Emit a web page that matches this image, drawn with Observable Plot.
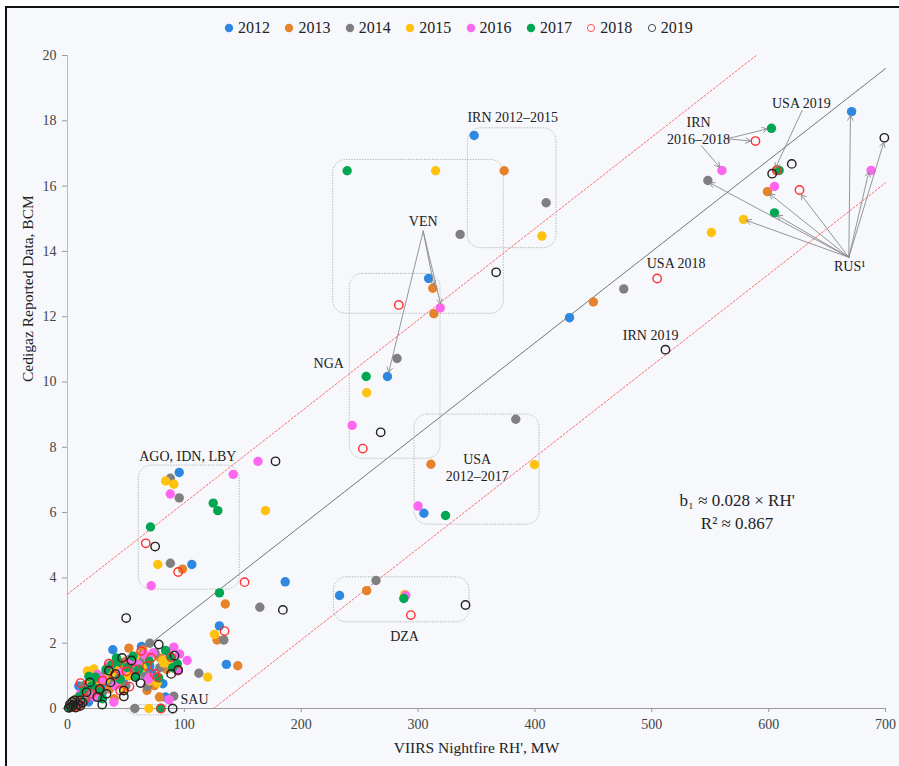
<!DOCTYPE html>
<html><head><meta charset="utf-8">
<script src="https://cdn.jsdelivr.net/npm/d3@7"></script>
<script src="https://cdn.jsdelivr.net/npm/@observablehq/plot@0.6"></script>
<style>
html,body{margin:0;background:#fff;font-family:"Liberation Serif","DejaVu Serif",serif;overflow:hidden}
#frame{position:absolute;left:5px;top:6px;width:892px;height:758px;border-top:2px solid #111;border-left:2px solid #111;background:#f6f8fc;overflow:hidden}
#legend{position:absolute;left:217px;top:10px;height:20px;display:flex;font-size:16px;color:#222;z-index:2}
#legend .item{width:60.4px;display:flex;align-items:center}
#legend svg{margin-right:4px}
#chart{position:absolute;left:0;top:0}
</style></head>
<body>
<div id="frame"><div id="legend"></div><div id="chart"></div></div>
<script>
const years = [2012, 2013, 2014, 2015, 2016, 2017, 2018, 2019];
const yearColors = ["#2e88e0", "#e6832a", "#808080", "#ffc20e", "#ff66f0", "#00a651", "#ff3030", "#222222"];
const openYears = [2018, 2019];
const xTicks = [0, 100, 200, 300, 400, 500, 600, 700];
const yTicks = [0, 2, 4, 6, 8, 10, 12, 14, 16, 18, 20];

// [RH' MW, BCM]
const d2012 = [[348,17.55],[671,18.28],[429.6,11.97],[273.8,10.17],[309,13.17],[95.6,7.23],[106.4,4.41],[186.3,3.88],[130,2.53],[136,1.35],[232.8,3.46],[305,5.98],
  [38.8,1.80],[63.3,1.90],[66.2,1.29],[70.4,1.29],[81.6,0.76],[83.9,0.35],[2,0.05],[5,0.15],[8,0.3],[12,0.4],[15,0.62],[20,0.55],[25,0.9],[30,0.75],[35,1.0],[42,1.1],[48,0.9],[55,1.2],[58,1.5],[72,1.1],[46,1.3],[18,0.2],[10,0.1],[9.7,0.69]];
const d2013 = [[373.7,16.47],[312.6,12.87],[313.5,12.09],[450,12.45],[311,7.48],[256,3.61],[98.4,4.27],[135,3.2],[128,2.1],[145.7,1.31],[599,15.83],[607,16.5],
  [52.5,1.85],[64.5,1.80],[79.6,1.54],[78.7,0.35],[74.4,0.70],[3,0.05],[7,0.2],[12,0.35],[16,0.5],[22,0.45],[28,0.8],[33,0.95],[40,1.2],[45,0.75],[50,1.45],[57,1.0],[62,1.6],[68,0.55],[85,1.2],[20,0.9],[36,0.6],[9,0.05],[40,0.3]];
const d2014 = [[409.6,15.49],[336,14.52],[282,10.72],[476,12.85],[383.6,8.86],[264,3.92],[95.6,6.45],[88,4.45],[164.6,3.1],[133.8,2.1],[548,16.17],[57.6,0],[91,0.38],[88,7.05],
  [70.4,2.0],[68.2,0.67],[112.4,1.08],[2,0.02],[6,0.1],[11,0.25],[17,0.4],[24,0.6],[30,0.5],[37,0.85],[44,1.0],[50,0.7],[56,1.3],[62,1.5],[75,1.7],[88,1.55],[14,0.7],[28,1.0],[66,1.05],[79,1.25]];
const d2015 = [[315,16.47],[406,14.47],[256,9.67],[399.6,7.47],[578.5,14.98],[551,14.58],[84,6.97],[91,6.87],[169.4,6.06],[77.3,4.41],[125.8,2.27],[120,0.96],[288.6,3.49],[69.6,0],
  [81.6,1.47],[76.7,0.78],[82.4,1.39],[3,0.1],[8,0.3],[13,0.45],[19,0.8],[22.5,1.21],[27,0.65],[32.5,0.88],[38,1.1],[44,1.25],[52,1.0],[58,1.6],[64,1.25],[70,0.85],[86,1.4],[17,1.15],[48,0.55]];
const d2016 = [[319,12.27],[243.6,8.67],[300,6.2],[289.5,3.46],[163,7.57],[141.8,7.17],[88,6.57],[71.6,3.76],[560,16.48],[605,15.99],[687.7,16.48],[102.4,1.47],
  [91,1.88],[96,1.67],[94.7,1.18],[69,0.88],[70.4,0.96],[86.7,0.27],[39.6,0.19],[25.4,1.04],[4,0.1],[9,0.2],[14,0.5],[19,0.65],[23,0.35],[30,0.9],[35,1.3],[41,0.7],[47,1.15],[53,1.5],[60,1.35],[66,1.65],[73,1.7],[85,1.75],[11,0.45]];
const d2017 = [[239.3,16.47],[255.6,10.17],[323.5,5.91],[287.8,3.37],[124.7,6.29],[128.6,6.06],[71,5.56],[130,3.54],[602.4,17.77],[609,16.48],[605,15.18],[79.6,0],
  [83.9,1.78],[93.9,1.37],[78.1,0.94],[58.2,0.98],[51,1.26],[43.9,1.42],[41.9,1.55],[24,0.96],[18.3,0.98],[2,0.03],[6,0.15],[10,0.35],[14,0.55],[21,0.7],[28,0.55],[33,1.2],[38,1.35],[45,0.9],[56,1.6],[61,1.2],[70,1.45],[88,1.6],[30,0.3],[90,1.25]];
const d2018 = [[283.5,12.36],[252.7,7.96],[293.8,2.86],[67,5.06],[94.7,4.18],[151.5,3.87],[134.4,2.37],[588.7,17.38],[607,16.48],[626.4,15.88],[504.6,13.17],[80,0],
  [35.4,1.37],[63,1.76],[71.6,1.55],[88.7,1.57],[74.7,1.06],[76.7,0.96],[94.4,1.16],[48.2,1.35],[50.5,1.14],[53,0.67],[11.1,0.78],[27.4,0.55],[11,0.09],[5,0.05],[8,0.2],[15,0.3],[20,0.45],[30,0.85],[40,1.0],[45,0.55],[58,1.2],[68,1.3]];
const d2019 = [[366.8,13.36],[268,8.46],[340.6,3.17],[178,7.57],[75,4.96],[184.3,3.02],[50.2,2.77],[511.7,10.99],[603,16.38],[619.8,16.68],[699,17.48],[90,0],
  [46.8,1.55],[54.8,1.47],[78.1,1.96],[91.6,1.62],[88.7,1.06],[94.7,1.18],[58.2,0.96],[62.5,0.78],[48.2,0.55],[48.2,0.37],[35.4,1.16],[41,1.06],[36.8,0.8],[19.1,0.8],[27.6,0.6],[33.4,0.45],[29.7,0.12],[25.4,0.35],[16.3,0.5],[11.1,0.25],
  [1,0.02],[3,0.05],[5,0.1],[7,0.03],[9,0.12],[11,0.08],[13,0.18],[4,0.2],[2,0.12],[6,0.25]];
const series = [d2012, d2013, d2014, d2015, d2016, d2017, d2018, d2019];

// regression b1 = 0.028*RH', band +-3.5
const fitLine = [[0,0],[700,19.6]];
const upperBand = [[0,3.5],[589.3,20]];
const lowerBand = [[125,0],[700,16.1]];

// grouping boxes [x1,x2,y1,y2]
const boxes = [[61,147.4,3.64,7.44],[227.4,373.4,12.09,16.8],[342.6,418.5,14.1,17.77],[241.6,319.2,7.65,13.31],[297,404,5.63,9.0],[228,344,2.64,4.02],[52,95,-0.21,0.1]];

// labels [text, x, y]
const labels = [["AGO, IDN, LBY",103,7.72],["IRN 2012–2015",381,18.1],["VEN",304.4,14.92],["NGA",223.6,10.56],["USA",350.6,7.62],["2012–2017",350.6,7.1],["DZA",288.4,2.2],["IRN",540,17.96],["2016–2018",540,17.42],["USA 2019",628,18.54],["USA 2018",520.8,13.62],["IRN 2019",499,11.42],["RUS¹",669.4,13.54]];
const sauLabel = ["SAU",96.7,0.28];
const eqLabels = [["b₁ ≈ 0.028 × RH'",573,6.37],["R² ≈ 0.867",573,5.67]];

// arrows [x1,y1,x2,y2]
const arrows = [[304.4,14.62,274.9,10.3],[304.4,14.62,313.5,12.96],[304.4,14.62,319.2,12.39],
  [564.5,17.45,598.7,17.75],[564.5,17.45,584.5,17.38],[542.3,17.24,558.2,16.58],
  [628.7,18.32,605.9,16.56],
  [668.6,13.82,670,18.16],[668.6,13.82,698.5,17.34],[668.6,13.82,685.7,16.43],[668.6,13.82,627.8,15.74],[668.6,13.82,601,15.76],[668.6,13.82,607.3,15.1],[668.6,13.82,580.8,14.95],[668.6,13.82,549.6,16.1]];

const points = years.flatMap((yr, i) => series[i].map(([x, y]) => ({year: yr, x, y, open: openYears.includes(yr)})));
const colorOf = yr => yearColors[years.indexOf(yr)];

// legend
const legend = document.getElementById("legend");
years.forEach((yr, i) => {
  const open = openYears.includes(yr);
  const it = document.createElement("div");
  it.className = "item";
  it.innerHTML = `<svg width="10" height="10"><circle cx="5" cy="5" r="${open ? 3.6 : 4.2}" fill="${open ? "none" : yearColors[i]}" stroke="${open ? yearColors[i] : "none"}" stroke-width="1" opacity="${open ? 0.8 : 1}"/></svg><span>${yr}</span>`;
  legend.appendChild(it);
});

const font = '"Liberation Serif","DejaVu Serif",serif';
const chart = Plot.plot({
  width: 892, height: 758,
  marginLeft: 60, marginRight: 14, marginTop: 47, marginBottom: 58,
  style: {background: "transparent", fontFamily: font, fontSize: "14px", color: "#333", overflow: "visible"},
  x: {domain: [0, 700]},
  y: {domain: [0, 20]},
  marks: [
    Plot.axisX({ticks: xTicks, tickSize: 4, tickPadding: 7, label: null, stroke: "#999", fill: "#444", fontSize: 14}),
    Plot.axisY({ticks: yTicks, tickSize: 5, tickPadding: 6, label: null, stroke: "#999", fill: "#444", fontSize: 14}),
    Plot.ruleY([0], {x1: 0, x2: 700, stroke: "#999"}),
    Plot.ruleX([0], {y1: 0, y2: 20, stroke: "#bbb"}),
    Plot.line(fitLine, {x: d => d[0], y: d => d[1], stroke: "#666", strokeWidth: 0.9}),
    Plot.line(upperBand, {x: d => d[0], y: d => d[1], stroke: "#ff5a5a", strokeWidth: 0.9, strokeDasharray: "2,2"}),
    Plot.line(lowerBand, {x: d => d[0], y: d => d[1], stroke: "#ff5a5a", strokeWidth: 0.9, strokeDasharray: "2,2"}),
    Plot.rect(boxes, {x1: d => d[0], x2: d => d[1], y1: d => d[2], y2: d => d[3], rx: 13, fill: "none", stroke: "#b5b5b5", strokeWidth: 0.9, strokeDasharray: "1.5,1.2"}),
    Plot.dot(points.filter(d => !d.open), {x: "x", y: "y", r: 4.7, fill: d => colorOf(d.year), stroke: "none"}),
    Plot.dot(points.filter(d => d.open), {x: "x", y: "y", r: 4.2, fill: "none", stroke: d => colorOf(d.year), strokeWidth: 1.4}),
    Plot.arrow(arrows, {x1: d => d[0], y1: d => d[1], x2: d => d[2], y2: d => d[3], stroke: "#8a8a8a", strokeWidth: 0.9, headLength: 9, bend: 0}),
    Plot.text(labels, {x: d => d[1], y: d => d[2], text: d => d[0], fontSize: 14, fill: "#222", lineAnchor: "middle"}),
    Plot.text([sauLabel], {x: d => d[1], y: d => d[2], text: d => d[0], fontSize: 14, fill: "#222", textAnchor: "start", lineAnchor: "middle"}),
    Plot.text(eqLabels, {x: d => d[1], y: d => d[2], text: d => d[0], fontSize: 17, fill: "#222", lineAnchor: "middle"}),
    Plot.text(["VIIRS Nightfire RH', MW"], {frameAnchor: "bottom", dy: 44, fontSize: 15.5, fill: "#222"}),
    Plot.text(["Cedigaz Reported Data, BCM"], {frameAnchor: "left", dx: -39, rotate: -90, fontSize: 15.5, fill: "#222"})
  ]
});
document.getElementById("chart").appendChild(chart);
</script>
</body></html>
